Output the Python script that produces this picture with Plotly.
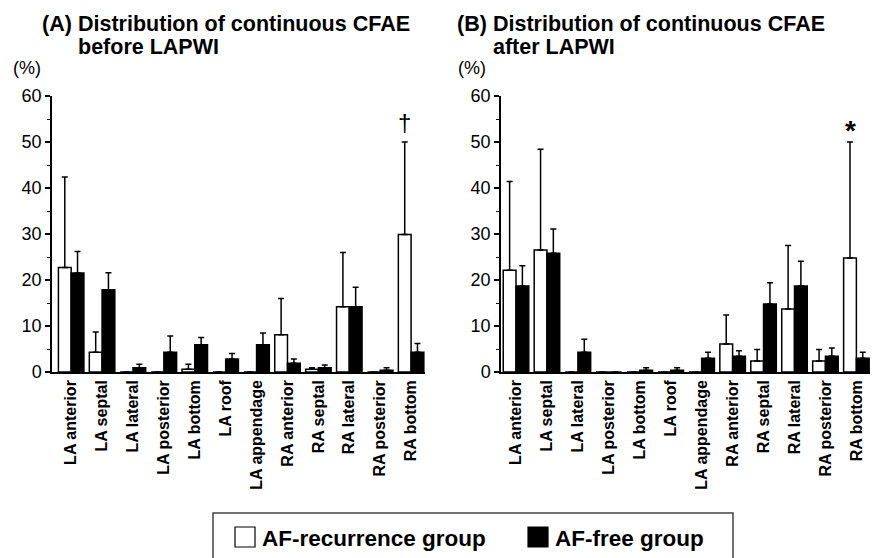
import plotly.graph_objects as go

W, H = 893, 558
OX, OY = 8, 8  # the page body adds an 8px margin; positions below are page pixels

categories = ["LA anterior", "LA septal", "LA lateral", "LA posterior", "LA bottom",
              "LA roof", "LA appendage", "RA anterior", "RA septal", "RA lateral",
              "RA posterior", "RA bottom"]

# (A) before LAPWI
rec_before = [22.7, 4.3, 0, 0, 0.6, 0, 0, 8.1, 0.6, 14.2, 0, 29.9]
rec_before_err = [19.7, 4.4, 0, 0, 1.1, 0, 0, 7.9, 0.3, 11.8, 0, 20.1]
free_before = [21.5, 17.9, 0.9, 4.3, 5.9, 2.8, 5.9, 1.9, 0.9, 14.2, 0.4, 4.3]
free_before_err = [4.7, 3.7, 0.8, 3.5, 1.6, 1.2, 2.6, 0.9, 0.6, 4.2, 0.5, 1.9]

# (B) after LAPWI
rec_after = [22.1, 26.5, 0, 0, 0, 0, 0, 6.1, 2.4, 13.7, 2.4, 24.8]
rec_after_err = [19.3, 21.9, 0, 0, 0, 0, 0, 6.3, 2.5, 13.8, 2.5, 25.2]
free_after = [18.7, 25.8, 4.3, 0, 0.4, 0.4, 3.0, 3.4, 14.8, 18.7, 3.4, 3.0]
free_after_err = [4.4, 5.3, 2.8, 0, 0.5, 0.5, 1.3, 1.2, 4.6, 5.4, 1.8, 1.3]

yticks = [0, 10, 20, 30, 40, 50, 60]
series_names = ["AF-recurrence group", "AF-free group"]
marks = ["†", "*"]

FONT = "Liberation Sans, Arial, sans-serif"
x_idx = list(range(len(categories)))

fig = go.Figure()

panels = [
    ("x", "y", rec_before, rec_before_err, free_before, free_before_err),
    ("x2", "y2", rec_after, rec_after_err, free_after, free_after_err),
]

for xa, ya, rv, re, fv, fe in panels:
    fig.add_trace(go.Bar(
        x=x_idx, y=rv, xaxis=xa, yaxis=ya, name=series_names[0],
        marker=dict(color="white", line=dict(color="black", width=1.5)),
        error_y=dict(type="data", array=re, arrayminus=[0] * len(re), symmetric=False,
                     color="black", thickness=1.5, width=3),
        offsetgroup="rec", showlegend=False,
    ))
    fig.add_trace(go.Bar(
        x=x_idx, y=fv, xaxis=xa, yaxis=ya, name=series_names[1],
        marker=dict(color="black", line=dict(color="black", width=1.5)),
        error_y=dict(type="data", array=fe, arrayminus=[0] * len(fe), symmetric=False,
                     color="black", thickness=1.5, width=3),
        offsetgroup="free", showlegend=False,
    ))

xaxis_common = dict(
    tickmode="array", tickvals=x_idx, ticktext=categories, tickangle=-90,
    tickfont=dict(family=FONT, size=16, color="black", weight="bold"),
    showline=True, linecolor="black", linewidth=1.5, ticks="", showgrid=False,
    zeroline=False, automargin=False,
)
yaxis_common = dict(
    range=[0, 60], tickmode="array", tickvals=yticks,
    tickfont=dict(family=FONT, size=18, color="black"),
    showline=True, linecolor="black", linewidth=1.5, ticks="outside", ticklen=5,
    tickwidth=1.5, tickcolor="black", showgrid=False, zeroline=False, automargin=False,
    minor=dict(dtick=5, ticks="outside", ticklen=3, tickwidth=1.2, tickcolor="black", showgrid=False),
)


def px(x):
    return (x - OX) / W


def py(y):
    return 1 - (y - OY) / H


ytop, ybot = 96, 372
fig.update_layout(
    width=W, height=H, paper_bgcolor="white", plot_bgcolor="white",
    margin=dict(l=0, r=0, t=0, b=0, autoexpand=False),
    barmode="group", bargap=0.175, bargroupgap=0,
    xaxis=dict(domain=[px(52), px(425)], range=[-0.62, 11.45], anchor="y", **xaxis_common),
    yaxis=dict(domain=[py(ybot), py(ytop)], anchor="x", **yaxis_common),
    xaxis2=dict(domain=[px(501), px(870)], range=[-0.485, 11.44], anchor="y2", **xaxis_common),
    yaxis2=dict(domain=[py(ybot), py(ytop)], anchor="x2", **yaxis_common),
    showlegend=False,
)


def text(x, y, s, size, bold=False, xanchor="left", yanchor="middle"):
    fig.add_annotation(
        x=px(x), y=py(y), xref="paper", yref="paper", text=s, showarrow=False,
        xanchor=xanchor, yanchor=yanchor,
        font=dict(family=FONT, size=size, color="black", weight="bold" if bold else "normal"),
    )


# titles
text(40, 24, "(A)", 21.5, True)
text(76, 24, "Distribution of continuous CFAE", 21.5, True)
text(76, 47, "before LAPWI", 21.5, True)
text(455, 24, "(B)", 21.5, True)
text(491, 24, "Distribution of continuous CFAE", 21.5, True)
text(491, 47, "after LAPWI", 21.5, True)
text(11, 68, "(%)", 18)
text(456, 68, "(%)", 18)

# significance marks above the last AF-recurrence bar
off = (1 - 0.175) / 4
for (xa, ya), rv, re, m, sz, bold, ys in zip([("x", "y"), ("x2", "y2")],
                                             [rec_before, rec_after], [rec_before_err, rec_after_err],
                                             marks, [24, 28], ["normal", "bold"], [4, -6]):
    i = len(categories) - 1
    fig.add_annotation(
        x=x_idx[i] - off, y=rv[i] + re[i], xref=xa, yref=ya, text=m, showarrow=False,
        xanchor="center", yanchor="bottom", yshift=ys,
        font=dict(family=FONT, size=sz, color="black", weight=bold),
    )

# legend box (drawn manually to match large symbols); its lower edge lies below the page
fig.add_shape(type="path", xref="paper", yref="paper",
              path=f"M {px(213)} {py(640)} L {px(213)} {py(513)} L {px(733)} {py(513)} L {px(733)} {py(640)}",
              line=dict(color="#444", width=1.5))
fig.add_shape(type="rect", xref="paper", yref="paper", x0=px(235), x1=px(255),
              y0=py(547), y1=py(527), line=dict(color="black", width=1.2), fillcolor="white")
fig.add_shape(type="rect", xref="paper", yref="paper", x0=px(528), x1=px(548),
              y0=py(547), y1=py(527), line=dict(color="black", width=1.2), fillcolor="black")
text(260, 538, series_names[0], 22.5, True)
text(553, 538, series_names[1], 22.5, True)

fig.write_html("out.html")
